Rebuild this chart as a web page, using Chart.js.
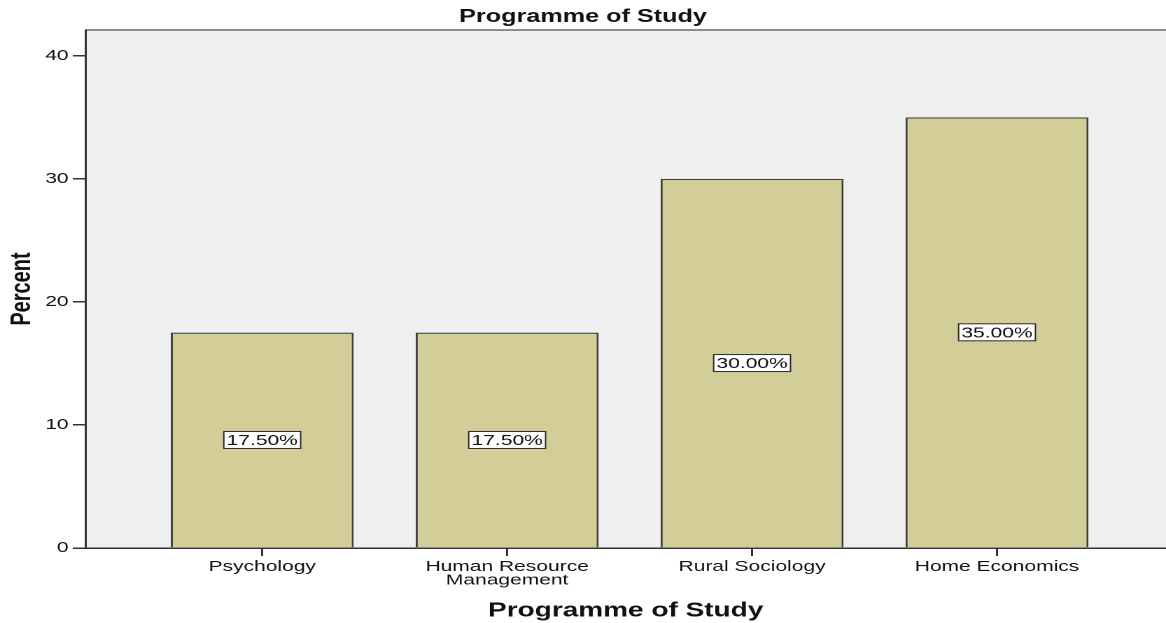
<!DOCTYPE html>
<html>
<head>
<meta charset="utf-8">
<title>Programme of Study</title>
<script src="https://cdn.jsdelivr.net/npm/chart.js@4/dist/chart.umd.min.js"></script>
<style>
  html, body { margin: 0; padding: 0; background: #fff; }
</style>
</head>
<body>
<!-- the original picture is stretched sideways, so the canvas is drawn narrow and widened -->
<canvas id="chart" width="833" height="623" style="display:block;width:1166px;height:623px"></canvas>
<script>
// data
var categories = ['Psychology', ['Human Resource', 'Management'], 'Rural Sociology', 'Home Economics'];
var percents = [17.5, 17.5, 30, 35];
var yTicks = [0, 10, 20, 30, 40];

var font = '"Liberation Sans", Arial, sans-serif';

var points = [];
for (var i = 0; i < percents.length; i++) {
    points.push({ x: i + 1, y: percents[i] });
}

// grey plot background + top line
var plotBack = {
    id: 'plotBack',
    beforeDraw: function (chart) {
        var a = chart.chartArea;
        var ctx = chart.ctx;
        ctx.save();
        ctx.fillStyle = '#efefef';
        ctx.fillRect(a.left, a.top, a.right - a.left, a.bottom - a.top);
        ctx.strokeStyle = '#6a6a6a';
        ctx.lineWidth = 1.5;
        ctx.beginPath();
        ctx.moveTo(a.left, a.top);
        ctx.lineTo(a.right, a.top);
        ctx.stroke();
        ctx.restore();
    }
};

// boxed percent labels in the middle of each bar
var boxLabels = {
    id: 'boxLabels',
    afterDatasetsDraw: function (chart) {
        var ctx = chart.ctx;
        var meta = chart.getDatasetMeta(0);
        ctx.save();
        ctx.font = '15px ' + font;
        ctx.textAlign = 'center';
        ctx.textBaseline = 'middle';
        meta.data.forEach(function (bar, i) {
            var txt = percents[i].toFixed(2) + '%';
            var w = ctx.measureText(txt).width + 4;
            var h = 17;
            var cy = (bar.y + bar.base) / 2;
            ctx.fillStyle = '#ffffff';
            ctx.fillRect(bar.x - w / 2, cy - h / 2, w, h);
            ctx.strokeStyle = '#2a2a2a';
            ctx.lineWidth = 1;
            ctx.strokeRect(bar.x - w / 2, cy - h / 2, w, h);
            ctx.fillStyle = '#111';
            ctx.fillText(txt, bar.x, cy + 1);
        });
        ctx.restore();
    }
};

var ctx = document.getElementById('chart').getContext('2d');
var chart = new Chart(ctx, {
    type: 'bar',
    data: {
        datasets: [{
            data: points,
            backgroundColor: '#d3ce97',
            borderColor: '#3e3e3e',
            borderWidth: { left: 1.5, right: 1.5, top: 1.2, bottom: 0 },
            borderSkipped: false,
            categoryPercentage: 1,
            barPercentage: 0.747
        }]
    },
    options: {
        responsive: false,
        animation: false,
        devicePixelRatio: 2,
        layout: { padding: 0 },
        plugins: {
            legend: { display: false },
            tooltip: { enabled: false },
            title: {
                display: true,
                text: 'Programme of Study',
                color: '#111',
                font: { family: font, size: 18, weight: 'bold' },
                padding: { top: 6, bottom: 2.4 }
            }
        },
        scales: {
            x: {
                type: 'linear',
                offset: false,
                min: 0.278,
                max: 4.69,
                afterBuildTicks: function (scale) {
                    scale.ticks = categories.map(function (c, i) { return { value: i + 1 }; });
                },
                afterFit: function (scale) { scale.height = 75; },
                grid: {
                    display: true,
                    offset: false,
                    drawOnChartArea: false,
                    drawTicks: true,
                    tickLength: 8,
                    tickColor: '#333',
                    lineWidth: 1.5
                },
                border: { display: true, color: '#333', width: 1.5 },
                ticks: {
                    autoSkip: false,
                    maxRotation: 0,
                    padding: 4,
                    color: '#111',
                    font: { family: font, size: 15, lineHeight: 0.9 },
                    callback: function (v) {
                        var c = categories[Math.round(v) - 1];
                        return c === undefined ? '' : c;
                    }
                },
                title: {
                    display: true,
                    text: 'Programme of Study',
                    color: '#111',
                    font: { family: font, size: 20, weight: 'bold' },
                    padding: { top: 0, bottom: 0 }
                }
            },
            y: {
                min: 0,
                max: 42.1,
                afterBuildTicks: function (scale) {
                    scale.ticks = yTicks.map(function (v) { return { value: v }; });
                },
                afterFit: function (scale) { scale.width = 61; },
                grid: {
                    display: true,
                    drawOnChartArea: false,
                    drawTicks: true,
                    tickLength: 9,
                    tickColor: '#333',
                    lineWidth: 1.5
                },
                border: { display: true, color: '#333', width: 1.5 },
                ticks: {
                    padding: 3,
                    color: '#111',
                    font: { family: font, size: 15 }
                },
                title: {
                    display: true,
                    text: 'Percent',
                    color: '#111',
                    font: { family: font, size: 20, weight: 'bold' },
                    padding: { top: 4, bottom: 0 }
                }
            }
        }
    },
    plugins: [plotBack, boxLabels]
});
</script>
</body>
</html>
